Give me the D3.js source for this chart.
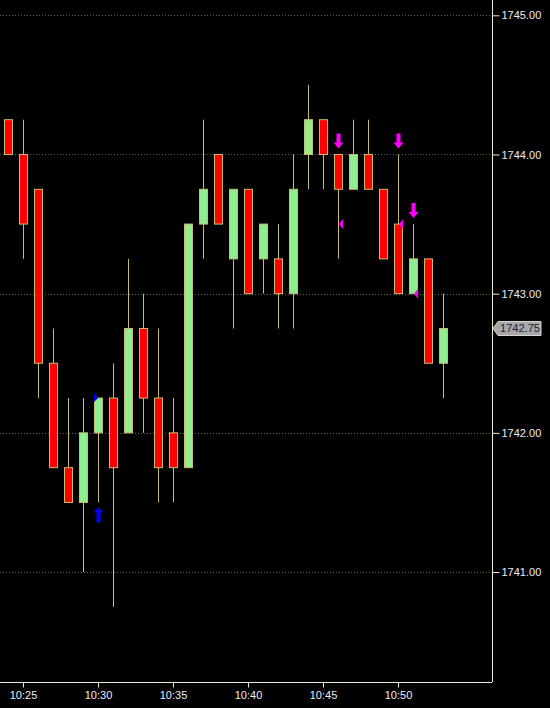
<!DOCTYPE html>
<html><head><meta charset="utf-8">
<script src="https://cdn.jsdelivr.net/npm/d3@7"></script>
<style>html,body{margin:0;padding:0;background:#000;}svg{display:block;}</style>
</head><body>
<svg id="c" width="550" height="708"></svg>
<script>
// Minute bars starting 10:24
const times = ["10:24","10:25","10:26","10:27","10:28","10:29","10:30","10:31","10:32","10:33","10:34","10:35","10:36","10:37","10:38","10:39","10:40","10:41","10:42","10:43","10:44","10:45","10:46","10:47","10:48","10:49","10:50","10:51","10:52","10:53"];
const opens  = [1744.25,1744.00,1743.75,1742.50,1741.75,1741.50,1742.00,1742.25,1742.00,1742.75,1742.25,1742.00,1741.75,1743.50,1744.00,1743.25,1743.75,1743.25,1743.25,1743.00,1744.00,1744.25,1744.00,1743.75,1744.00,1743.75,1743.50,1743.00,1743.25,1742.50];
const highs  = [1744.25,1744.25,1743.75,1742.75,1742.25,1742.25,1742.25,1742.50,1743.25,1743.00,1742.75,1742.25,1743.50,1744.25,1744.00,1743.75,1743.75,1743.50,1743.50,1744.00,1744.50,1744.25,1744.00,1744.25,1744.25,1743.75,1744.00,1743.50,1743.25,1743.00];
const lows   = [1744.00,1743.25,1742.25,1741.75,1741.50,1741.00,1741.50,1740.75,1742.00,1742.00,1741.50,1741.50,1741.75,1743.25,1743.50,1742.75,1743.00,1743.00,1742.75,1742.75,1743.75,1743.75,1743.25,1743.75,1743.75,1743.25,1743.00,1743.00,1742.50,1742.25];
const closes = [1744.00,1743.50,1742.50,1741.75,1741.50,1742.00,1742.25,1741.75,1742.75,1742.25,1741.75,1741.75,1743.50,1743.75,1743.50,1743.75,1743.00,1743.50,1743.00,1743.75,1744.25,1744.00,1743.75,1744.00,1743.75,1743.25,1743.00,1743.25,1742.50,1742.75];
const priceTicks = [1741, 1742, 1743, 1744, 1745];
const timeTicks = ["10:25","10:30","10:35","10:40","10:45","10:50"];
// signal markers
const buyArrows = [{t:"10:30", p:1741.50}];
const sellArrows = [{t:"10:46", p:1744.00},{t:"10:50", p:1744.00},{t:"10:51", p:1743.50}];
const buyEntries = [{t:"10:30", p:1742.25}];
const sellEntries = [{t:"10:46", p:1743.50},{t:"10:50", p:1743.50},{t:"10:51", p:1743.00}];
const lastPrice = 1742.75;

const parse = d3.timeParse("%H:%M");
const svg = d3.select("#c");
const plotW = 492, plotH = 682;
const t0 = parse("10:25");
const minPx = 15;
const x = d3.scaleTime()
  .domain([new Date(+t0 - 23/minPx*60000), new Date(+t0 + (plotW-23)/minPx*60000)])
  .range([0, plotW]);
const y = d3.scaleLinear().domain([1740.21, 1745.11]).range([plotH, 0]);

// gridlines
svg.append("g").selectAll("line").data(priceTicks).join("line")
  .attr("x1", 0).attr("x2", plotW)
  .attr("y1", d => Math.round(y(d)) + 0.5).attr("y2", d => Math.round(y(d)) + 0.5)
  .attr("stroke", "#5a5a5a").attr("stroke-dasharray", "1,2");

const bars = times.map((t, i) => ({t: parse(t), o: opens[i], h: highs[i], l: lows[i], c: closes[i]}));
const wickCol = "#c8bc6c";
const g = svg.append("g");
g.selectAll("line.w").data(bars).join("line")
  .attr("class", "w")
  .attr("x1", d => Math.round(x(d.t)) + 0.5).attr("x2", d => Math.round(x(d.t)) + 0.5)
  .attr("y1", d => y(d.h)).attr("y2", d => y(d.l))
  .attr("stroke", wickCol).attr("stroke-width", 1);
g.selectAll("rect").data(bars).join("rect")
  .attr("x", d => Math.round(x(d.t)) - 3.5)
  .attr("width", 8)
  .attr("y", d => y(Math.max(d.o, d.c)))
  .attr("height", d => Math.max(1, y(Math.min(d.o, d.c)) - y(Math.max(d.o, d.c))))
  .attr("fill", d => d.c >= d.o ? "#90ee90" : "#ff0000")
  .attr("stroke", wickCol).attr("stroke-width", 1);

// up arrows (blue), below price
function upArrow(cx, top) {
  return `M${cx},${top} L${cx+5},${top+5} L${cx+2},${top+5} L${cx+2},${top+15} L${cx-2},${top+15} L${cx-2},${top+5} L${cx-5},${top+5} Z`;
}
function downArrow(cx, bottom) {
  return `M${cx},${bottom} L${cx+5},${bottom-6} L${cx+2},${bottom-6} L${cx+2},${bottom-15} L${cx-2},${bottom-15} L${cx-2},${bottom-6} L${cx-5},${bottom-6} Z`;
}
svg.append("g").selectAll("path").data(buyArrows).join("path")
  .attr("d", d => upArrow(Math.round(x(parse(d.t))) + 0.5, y(d.p) + 5))
  .attr("fill", "#0000ff");
svg.append("g").selectAll("path").data(sellArrows).join("path")
  .attr("d", d => downArrow(Math.round(x(parse(d.t))) + 0.5, y(d.p) - 6))
  .attr("fill", "#ff00ff");
// entry triangles
svg.append("g").selectAll("path").data(buyEntries).join("path")
  .attr("d", d => { const cx = Math.round(x(parse(d.t))) - 4, cy = y(d.p); return `M${cx},${cy-5} L${cx+4},${cy} L${cx},${cy+4} Z`; })
  .attr("fill", "#0000ff");
svg.append("g").selectAll("path").data(sellEntries).join("path")
  .attr("d", d => { const cx = Math.round(x(parse(d.t))) + 5, cy = y(d.p); return `M${cx},${cy-5} L${cx-4},${cy} L${cx},${cy+5} Z`; })
  .attr("fill", "#ff00ff");

// axes
const axCol = "#f5ead2";
const yAxis = svg.append("g").attr("transform", `translate(${plotW + 0.5},0)`)
  .call(d3.axisRight(y).tickValues(priceTicks).tickFormat(d3.format(".2f")).tickSize(7).tickPadding(2));
const xAxis = svg.append("g").attr("transform", `translate(0,${plotH + 0.5})`)
  .call(d3.axisBottom(x).tickValues(timeTicks.map(parse)).tickFormat(d3.timeFormat("%H:%M")).tickSize(5).tickPadding(4));
[yAxis, xAxis].forEach(a => {
  a.select(".domain").attr("stroke", axCol);
  a.selectAll(".tick line").attr("stroke", axCol);
  a.selectAll(".tick text").attr("fill", "#ececf4").attr("font-family", "Liberation Sans, Arial, sans-serif").attr("font-size", 11);
});
yAxis.select(".domain").attr("d", `M0,0V${plotH}`);
xAxis.select(".domain").attr("d", `M0,0H${plotW}`);

// last price tag
const ly = y(lastPrice);
const tag = svg.append("g");
tag.append("path")
  .attr("d", `M${plotW+1},${ly} L${plotW+6},${ly-7} L${plotW+49},${ly-7} L${plotW+49},${ly+7} L${plotW+6},${ly+7} Z`)
  .attr("fill", "#a8a8a8").attr("stroke", "#d8d8d8");
tag.append("text").attr("x", plotW + 28).attr("y", ly + 4).attr("text-anchor", "middle")
  .attr("font-family", "Liberation Sans, Arial, sans-serif").attr("font-size", 11)
  .attr("fill", "#202040").text(d3.format(".2f")(lastPrice));
</script>
</body></html>
